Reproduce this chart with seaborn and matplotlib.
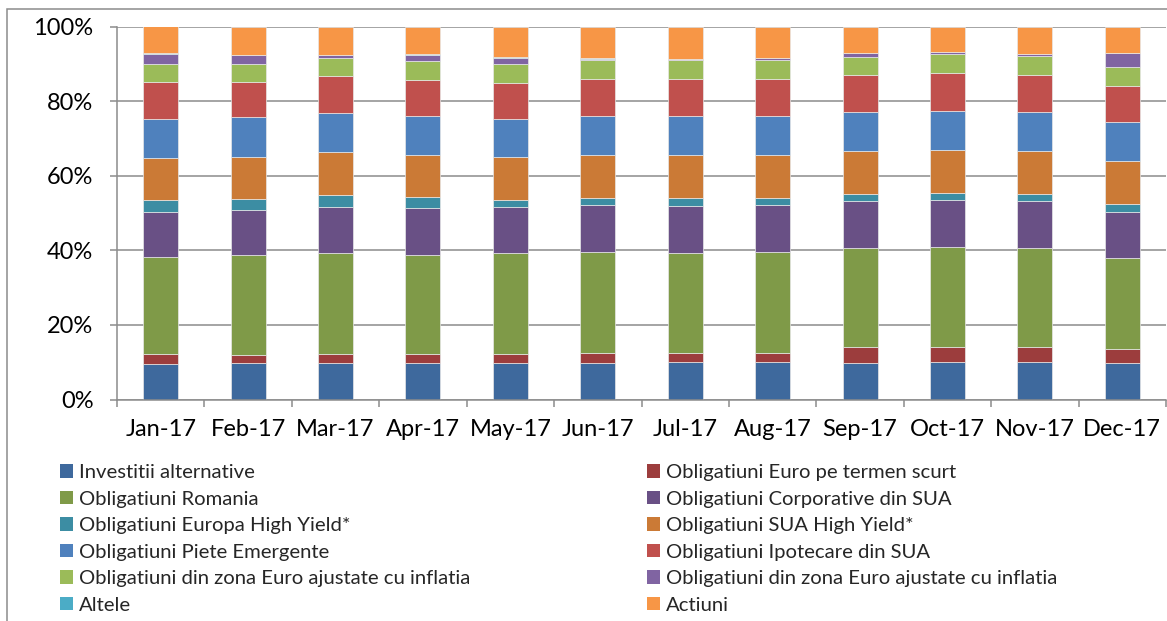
import matplotlib
matplotlib.use("Agg")
import matplotlib.pyplot as plt
import matplotlib.patches as mpatches
import numpy as np
import pandas as pd
import seaborn as sns
from matplotlib.ticker import FuncFormatter, FixedLocator

# Data (percent of portfolio)
months = ['Jan-17', 'Feb-17', 'Mar-17', 'Apr-17', 'May-17', 'Jun-17',
          'Jul-17', 'Aug-17', 'Sep-17', 'Oct-17', 'Nov-17', 'Dec-17']

investitii_alternative = [9.6, 9.7, 9.9, 9.8, 9.7, 9.9, 10.1, 10.0, 9.8, 10.0, 10.0, 9.7]
euro_termen_scurt = [2.5, 2.3, 2.3, 2.3, 2.4, 2.5, 2.5, 2.6, 4.2, 4.0, 4.1, 3.9]
romania = [26.0, 26.8, 27.2, 26.7, 27.3, 27.2, 26.8, 27.0, 26.7, 26.8, 26.6, 24.4]
corporative_sua = [12.2, 12.1, 12.3, 12.5, 12.2, 12.5, 12.5, 12.5, 12.5, 12.6, 12.5, 12.4]
europa_high_yield = [3.1, 3.0, 3.1, 2.9, 1.8, 1.9, 2.1, 1.9, 2.0, 2.0, 2.0, 2.0]
sua_high_yield = [11.5, 11.2, 11.5, 11.4, 11.6, 11.5, 11.7, 11.5, 11.5, 11.5, 11.5, 11.5]
piete_emergente = [10.4, 10.6, 10.6, 10.4, 10.2, 10.5, 10.3, 10.5, 10.3, 10.5, 10.4, 10.5]
ipotecare_sua = [9.8, 9.5, 9.8, 9.8, 9.8, 10.0, 10.0, 10.0, 10.0, 10.3, 10.0, 9.8]
euro_inflatie_1 = [5.0, 4.9, 5.0, 5.0, 5.1, 5.0, 5.1, 5.1, 4.9, 5.1, 5.0, 5.0]
euro_inflatie_2 = [2.7, 2.2, 0.6, 1.5, 1.4, 0.3, 0.3, 0.4, 1.0, 0.4, 0.7, 3.7]
altele = [0.1, 0.1, 0.1, 0.4, 0.3, 0.3, 0.0, 0.0, 0.0, 0.0, 0.0, 0.0]
actiuni = [7.2, 7.5, 7.6, 7.3, 8.2, 8.4, 8.6, 8.5, 7.1, 6.8, 7.2, 7.1]

series = [
    ('Investitii alternative', investitii_alternative, '#3E699D'),
    ('Obligatiuni Euro pe termen scurt', euro_termen_scurt, '#9C3D3D'),
    ('Obligatiuni Romania', romania, '#7F9A48'),
    ('Obligatiuni Corporative din SUA', corporative_sua, '#695085'),
    ('Obligatiuni Europa High Yield*', europa_high_yield, '#3C8DA3'),
    ('Obligatiuni SUA High Yield*', sua_high_yield, '#CB7A36'),
    ('Obligatiuni Piete Emergente', piete_emergente, '#4F81BD'),
    ('Obligatiuni Ipotecare din SUA', ipotecare_sua, '#C0504D'),
    ('Obligatiuni din zona Euro ajustate cu inflatia', euro_inflatie_1, '#9BBB59'),
    ('Obligatiuni din zona Euro ajustate cu inflatia', euro_inflatie_2, '#8064A2'),
    ('Altele', altele, '#4BACC6'),
    ('Actiuni', actiuni, '#F79646'),
]

sns.set_theme(style='white')
plt.rcParams['font.family'] = ['Lato', 'DejaVu Sans']

fig = plt.figure(figsize=(11.67, 6.21), dpi=100)
ax = fig.add_axes([117 / 1167, 221.5 / 621, 1049 / 1167, 372.8 / 621])

grey = '#8C8C8C'
bottom = np.zeros(len(months))
handles = []
for name, vals, col in series:
    df = pd.DataFrame({'month': months, 'value': vals})
    sns.barplot(data=df, x='month', y='value', bottom=bottom, color=col,
                width=0.4, edgecolor='#E8E8E8', linewidth=0.5, ax=ax,
                errorbar=None, saturation=1)
    bottom = bottom + np.array(vals)
    handles.append(mpatches.Patch(facecolor=col, edgecolor='none', label=name))

ax.set_xlim(-0.5, len(months) - 0.5)
ax.set_ylim(0, 100)
ax.set_yticks([0, 20, 40, 60, 80, 100])
ax.yaxis.set_major_formatter(FuncFormatter(lambda v, p: f'{v:.0f}%'))
ax.set_xlabel('')
ax.set_ylabel('')

ax.grid(axis='y', color=grey, linewidth=1.1)
ax.grid(axis='x', visible=False)
ax.set_axisbelow(True)
for s in ['top', 'right']:
    ax.spines[s].set_visible(False)
for s in ['left', 'bottom']:
    ax.spines[s].set_color(grey)
    ax.spines[s].set_linewidth(1.1)

ax.tick_params(axis='y', which='major', left=True, length=5, width=1.1,
               color=grey, pad=12, labelsize=17, labelcolor='black')
ax.tick_params(axis='x', which='major', bottom=False, length=0, pad=14,
               labelsize=17, labelcolor='black')
ax.xaxis.set_minor_locator(FixedLocator(np.arange(-0.5, len(months), 1.0)))
ax.tick_params(axis='x', which='minor', bottom=True, length=5, width=1.1, color=grey)

# legend in two columns, same order as the reference
col1 = handles[0::2]
col2 = handles[1::2]
legend_kw = dict(loc='upper left', frameon=False, fontsize=14.6, handlelength=0.64,
                 handleheight=0.64, handletextpad=0.3, labelspacing=0.47,
                 borderpad=0, borderaxespad=0)
leg1 = fig.legend(handles=col1, bbox_to_anchor=(60 / 1167, 1 - 464 / 621), **legend_kw)
leg2 = fig.legend(handles=col2, bbox_to_anchor=(647 / 1167, 1 - 464 / 621), **legend_kw)

# outer chart-area border (left and top edges visible)
fig.patches.append(mpatches.Rectangle((7 / 1167, -0.1), 1.2, 0.1 + 1 - 9 / 621,
                                      transform=fig.transFigure, fill=False,
                                      edgecolor=grey, linewidth=1.1))

fig.savefig('out.png', dpi=100)
